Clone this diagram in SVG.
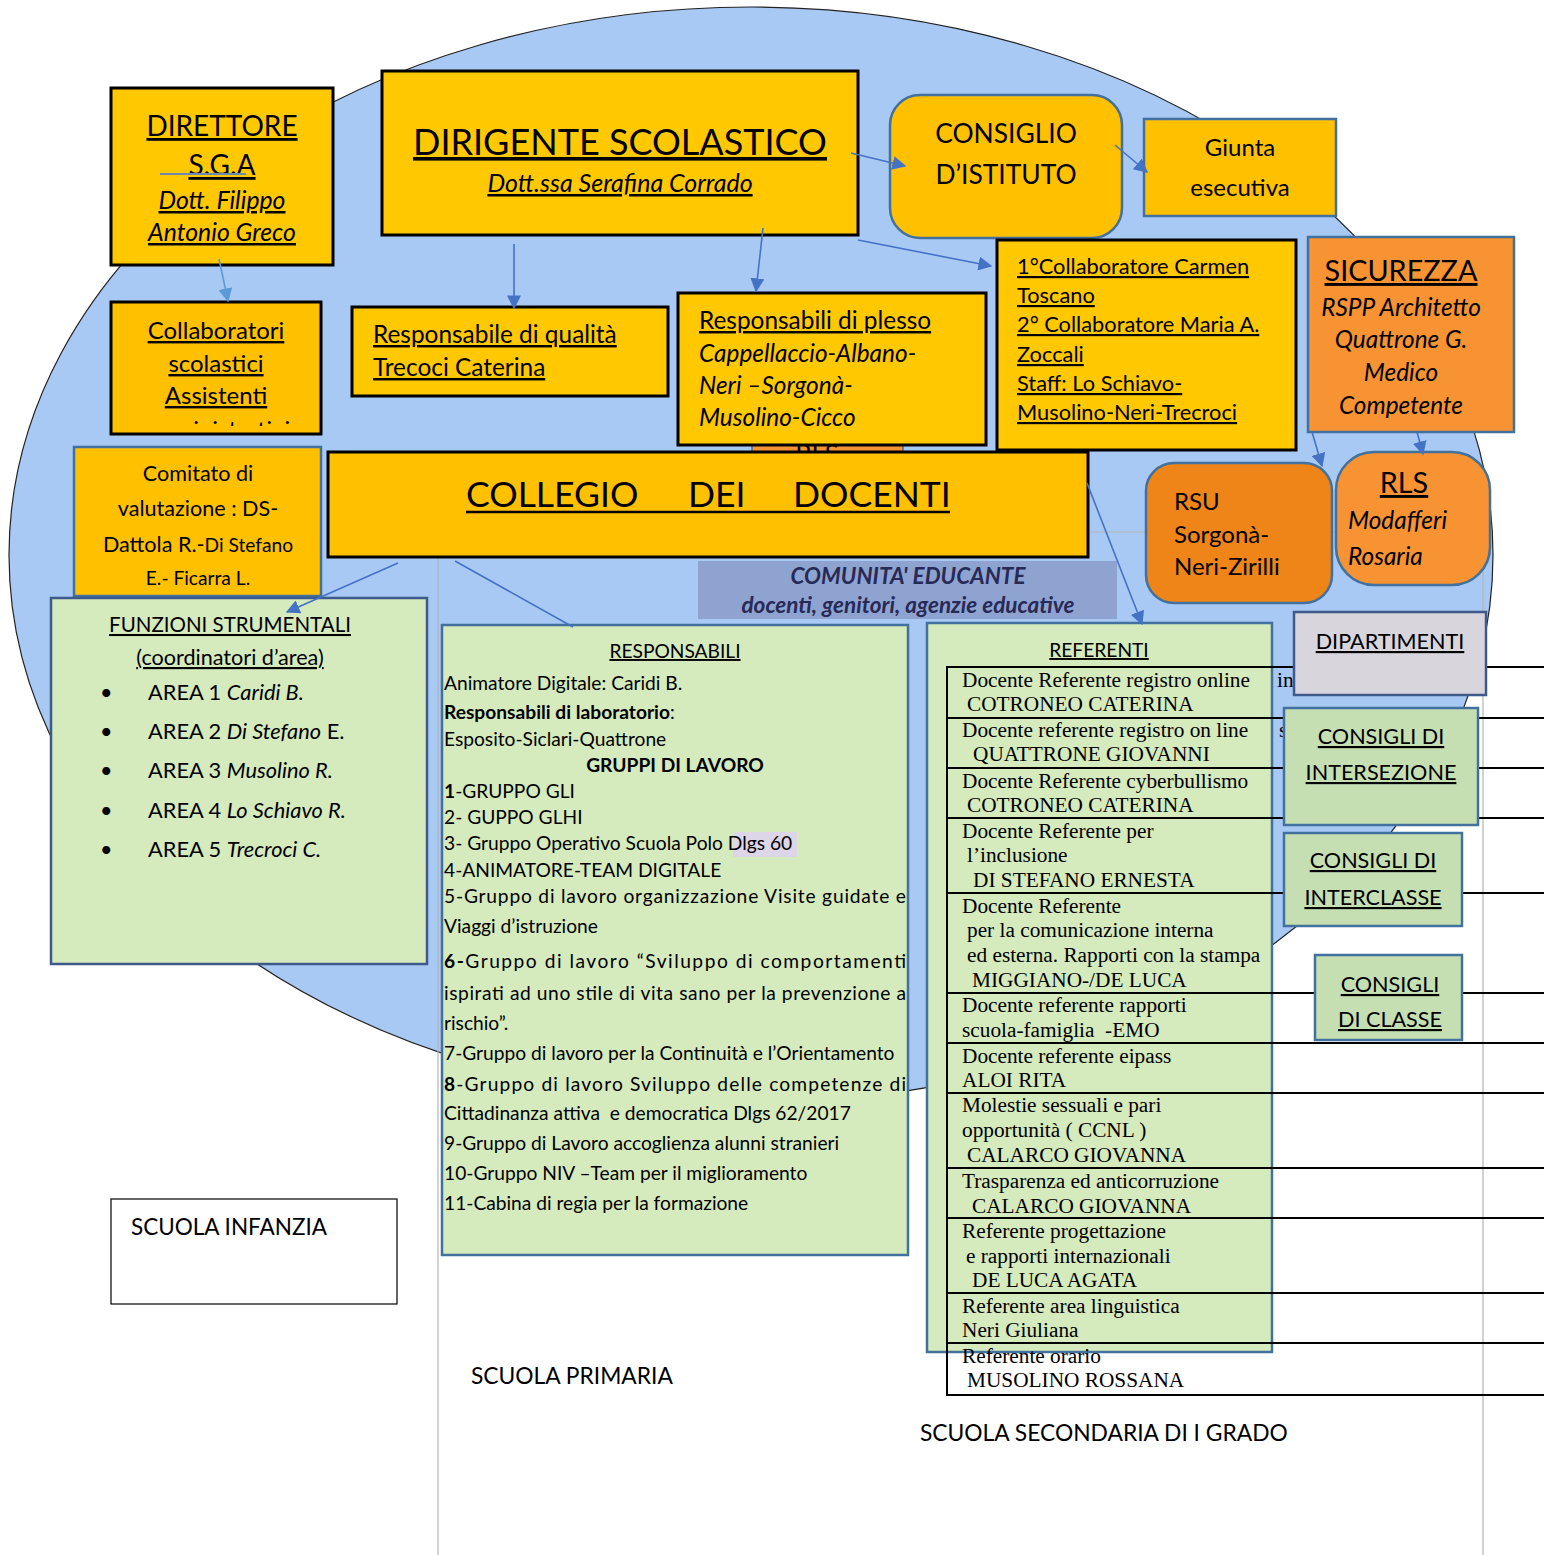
<svg xmlns="http://www.w3.org/2000/svg" width="1544" height="1555" viewBox="0 0 1544 1555">
<defs>
<style>
.cal{font-family:Lato,"Open Sans","Noto Sans",sans-serif;fill:#000}
.tnr{font-family:"Liberation Serif","Times New Roman",serif;font-size:21.3px;fill:#000}
.u{text-decoration:underline}
.i{font-style:italic}
.b{font-weight:bold}
.mid{text-anchor:middle}
.gold{fill:#FFC800;stroke:#000;stroke-width:3}
.gold2{fill:#FFC000;stroke:#000;stroke-width:3}
.goldb{fill:#FFC000;stroke:#41719c;stroke-width:2.5}
.org{fill:#F79332;stroke:#41719c;stroke-width:2.5}
.org2{fill:#EF8418;stroke:#41719c;stroke-width:2.5}
.grn{fill:#D5EABD;stroke:#41719c;stroke-width:2.5}
.grn2{fill:#C5DFB3;stroke:#41719c;stroke-width:2.5}
.conn{stroke:#4472c4;stroke-width:1.6;fill:none}
.row{stroke:#000;stroke-width:2}
.grid{stroke:#b4b4b4;stroke-width:1.2}
</style>
<marker id="ah" viewBox="0 0 10 10" refX="9" refY="5" markerWidth="14" markerHeight="14" markerUnits="userSpaceOnUse" orient="auto"><path d="M0,0 L10,5 L0,10 z" fill="#4472c4"/></marker>
<marker id="ahl" viewBox="0 0 10 10" refX="9" refY="5" markerWidth="14" markerHeight="14" markerUnits="userSpaceOnUse" orient="auto"><path d="M0,0 L10,5 L0,10 z" fill="#5b9bd5"/></marker>
<clipPath id="clipAmm"><rect x="112" y="300" width="208" height="126"/></clipPath>
</defs>
<rect x="0" y="0" width="1544" height="1555" fill="#fff"/>

<g id="background">
<ellipse cx="751" cy="555" rx="742" ry="548" fill="#A9C9F5" stroke="#222" stroke-width="1.2"/>
<line class="grid" x1="438" y1="532" x2="1483" y2="532"/>
<line class="grid" x1="438" y1="532" x2="438" y2="1555"/>
<line class="grid" x1="1483" y1="532" x2="1483" y2="1555"/>
</g>

<g id="dsga">
<rect class="gold" x="111" y="88" width="222" height="177"/>
<text class="cal u mid" x="222" y="136" font-size="28">DIRETTORE</text>
<text class="cal u mid" x="222" y="175" font-size="28">S.G.A</text>
<line x1="160" y1="174" x2="246" y2="174" stroke="#6a8ab5" stroke-width="2"/>
<text class="cal u i mid" x="222" y="209" font-size="24.8">Dott. Filippo</text>
<text class="cal u i mid" x="222" y="241" font-size="24.8">Antonio Greco</text>
</g>

<g id="dirigente">
<rect class="gold" x="382" y="71" width="476" height="164"/>
<text class="cal u mid" x="620" y="155" font-size="36">DIRIGENTE SCOLASTICO</text>
<text class="cal u i mid" x="620" y="192" font-size="25">Dott.ssa Serafina Corrado</text>
</g>

<g id="consiglio-istituto">
<rect class="goldb" x="890" y="95" width="232" height="143" rx="30"/>
<text class="cal mid" x="1006" y="143" font-size="26.4">CONSIGLIO</text>
<text class="cal mid" x="1006" y="184" font-size="26.4">D’ISTITUTO</text>
</g>

<g id="giunta">
<rect class="goldb" x="1144" y="119" width="192" height="97"/>
<text class="cal mid" x="1240" y="156" font-size="24">Giunta</text>
<text class="cal mid" x="1240" y="196" font-size="24">esecutiva</text>
</g>

<g id="collaboratori-ds">
<rect class="gold" x="997" y="240" width="299" height="210"/>
<text class="cal u" x="1017" y="274" font-size="21.8">1°Collaboratore Carmen</text>
<text class="cal u" x="1017" y="303" font-size="21.8">Toscano</text>
<text class="cal u" x="1017" y="332" font-size="21.8">2° Collaboratore Maria A.</text>
<text class="cal u" x="1017" y="362" font-size="21.8">Zoccali</text>
<text class="cal u" x="1017" y="391" font-size="21.8">Staff: Lo Schiavo-</text>
<text class="cal u" x="1017" y="420" font-size="21.8">Musolino-Neri-Trecroci</text>
</g>

<g id="sicurezza">
<rect class="org" x="1308" y="237" width="206" height="195"/>
<text class="cal u mid" x="1401" y="281" font-size="28.8">SICUREZZA</text>
<text class="cal i mid" x="1401" y="316" font-size="24.4">RSPP Architetto</text>
<text class="cal i mid" x="1401" y="348" font-size="24.4">Quattrone G.</text>
<text class="cal i mid" x="1401" y="381" font-size="24.4">Medico</text>
<text class="cal i mid" x="1401" y="414" font-size="24.4">Competente</text>
</g>

<g id="collaboratori-scolastici">
<rect class="gold2" x="111" y="302" width="210" height="132"/>
<text class="cal u mid" x="216" y="339" font-size="24">Collaboratori</text>
<text class="cal u mid" x="216" y="372" font-size="24">scolastici</text>
<text class="cal u mid" x="216" y="404" font-size="24">Assistenti</text>
<text class="cal u mid" x="216" y="438" font-size="24" clip-path="url(#clipAmm)">amministrativi</text>
</g>

<g id="qualita">
<rect class="gold" x="352" y="307" width="316" height="89"/>
<text class="cal u" x="373" y="343" font-size="24.4">Responsabile di qualità</text>
<text class="cal u" x="373" y="376" font-size="24.4">Trecoci Caterina</text>
</g>

<g id="hidden-box">
<rect x="752" y="420" width="151" height="40" fill="#F79332" stroke="#41719c" stroke-width="1.5"/>
<text class="cal mid" x="817" y="464" font-size="26">RLS</text>
</g>

<g id="plesso">
<rect class="gold" x="678" y="293" width="308" height="152"/>
<text class="cal u" x="699" y="329" font-size="24.4">Responsabili di plesso</text>
<text class="cal i" x="699" y="362" font-size="24.4">Cappellaccio-Albano-</text>
<text class="cal i" x="699" y="394" font-size="24.4">Neri –Sorgonà-</text>
<text class="cal i" x="699" y="426" font-size="24.4">Musolino-Cicco</text>
</g>

<g id="collegio">
<rect class="gold2" x="328" y="452" width="760" height="105"/>
<text class="cal" y="507" font-size="35.5"><tspan x="466">COLLEGIO</tspan><tspan x="688">DEI</tspan><tspan x="793">DOCENTI</tspan></text>
<line x1="466" y1="512" x2="950" y2="512" stroke="#000" stroke-width="2.5"/>
</g>

<g id="comitato">
<rect class="goldb" x="74" y="447" width="247" height="149"/>
<text class="cal mid" x="198" y="481" font-size="21.6">Comitato di</text>
<text class="cal mid" x="198" y="516" font-size="21.6">valutazione : DS-</text>
<text class="cal mid" x="198" y="552" font-size="21.6">Dattola R.-<tspan font-size="19.2">Di Stefano</tspan></text>
<text class="cal mid" x="198" y="585" font-size="19.2">E.- Ficarra L.</text>
</g>

<g id="rsu">
<rect class="org2" x="1146" y="463" width="186" height="140" rx="28"/>
<text class="cal" x="1174" y="510" font-size="24">RSU</text>
<text class="cal" x="1174" y="543" font-size="24">Sorgonà-</text>
<text class="cal" x="1174" y="575" font-size="24">Neri-Zirilli</text>
</g>

<g id="rls">
<rect class="org" x="1336" y="452" width="154" height="133" rx="38"/>
<text class="cal u mid" x="1404" y="493" font-size="28.8">RLS</text>
<text class="cal i" x="1348" y="529" font-size="24.4">Modafferi</text>
<text class="cal i" x="1348" y="565" font-size="24.4">Rosaria</text>
</g>

<g id="comunita">
<rect x="698" y="561" width="419" height="58" fill="#8FA3D1"/>
<text class="cal b i mid" x="908" y="584" font-size="22.5" style="fill:#272a56">COMUNITA' EDUCANTE</text>
<text class="cal b i mid" x="908" y="613" font-size="22.5" style="fill:#272a56">docenti, genitori, agenzie educative</text>
</g>

<g id="funzioni">
<rect class="grn" x="51" y="598" width="376" height="366" style="stroke:#3d5a8a"/>
<text class="cal u mid" x="230" y="632" font-size="20.5">FUNZIONI STRUMENTALI</text>
<text class="cal u mid" x="230" y="665" font-size="21.6">(coordinatori d’area)</text>
<g font-size="21.6">
<text class="cal" x="100" y="700">•</text>
<text class="cal" x="100" y="739">•</text>
<text class="cal" x="100" y="778">•</text>
<text class="cal" x="100" y="818">•</text>
<text class="cal" x="100" y="857">•</text>
<text class="cal" x="148" y="700" font-size="21.8">AREA 1  <tspan class="i">Caridi B.</tspan></text>
<text class="cal" x="148" y="739" font-size="21.8">AREA 2 <tspan class="i">Di Stefano</tspan> E.</text>
<text class="cal" x="148" y="778" font-size="21.8">AREA 3 <tspan class="i">Musolino R.</tspan></text>
<text class="cal" x="148" y="818" font-size="21.8">AREA 4 <tspan class="i">Lo Schiavo R.</tspan></text>
<text class="cal" x="148" y="857" font-size="21.8">AREA 5 <tspan class="i">Trecroci C.</tspan></text>
</g>
</g>

<g id="responsabili">
<rect class="grn" x="442" y="625" width="466" height="630"/>
<rect x="733" y="832" width="64" height="25" fill="#DCD6E8"/>
<g font-size="19.2">
<text class="cal u mid" x="675" y="658">RESPONSABILI</text>
<text class="cal" x="444" y="690">Animatore Digitale: Caridi B.</text>
<text class="cal" x="444" y="719"><tspan class="b">Responsabili di laboratorio</tspan>:</text>
<text class="cal" x="444" y="746">Esposito-Siclari-Quattrone</text>
<text class="cal b mid" x="675" y="772">GRUPPI DI LAVORO</text>
<text class="cal" x="444" y="798"><tspan class="b">1</tspan>-GRUPPO GLI</text>
<text class="cal" x="444" y="824">2- GUPPO GLHI</text>
<text class="cal" x="444" y="850">3- Gruppo Operativo Scuola Polo Dlgs 60</text>
<text class="cal" x="444" y="877">4-ANIMATORE-TEAM DIGITALE</text>
<text class="cal" x="444" y="903" textLength="462" lengthAdjust="spacing">5-Gruppo di lavoro organizzazione Visite guidate e</text>
<text class="cal" x="444" y="933">Viaggi d’istruzione</text>
<text class="cal" x="444" y="968" textLength="462" lengthAdjust="spacing"><tspan class="b">6-</tspan>Gruppo di lavoro “Sviluppo di comportamenti</text>
<text class="cal" x="444" y="1000" textLength="462" lengthAdjust="spacing">ispirati ad uno stile di vita sano per la prevenzione a</text>
<text class="cal" x="444" y="1030">rischio”.</text>
<text class="cal" x="444" y="1060">7-Gruppo di lavoro per la Continuità e l’Orientamento</text>
<text class="cal" x="444" y="1091" textLength="462" lengthAdjust="spacing"><tspan class="b">8</tspan>-Gruppo di lavoro Sviluppo delle competenze di</text>
<text class="cal" x="444" y="1120" xml:space="preserve">Cittadinanza attiva  e democratica Dlgs 62/2017</text>
<text class="cal" x="444" y="1150">9-Gruppo di Lavoro accoglienza alunni stranieri</text>
<text class="cal" x="444" y="1180">10-Gruppo NIV –Team per il miglioramento</text>
<text class="cal" x="444" y="1210">11-Cabina di regia per la formazione</text>
</g>
</g>

<g id="referenti">
<rect class="grn" x="927" y="623" width="345" height="729"/>
<text class="cal u mid" x="1099" y="657" font-size="19.2">REFERENTI</text>
<g id="referenti-table">
<line class="row" x1="947" y1="667" x2="947" y2="1395"/>
<line class="row" x1="946" y1="667" x2="1544" y2="667"/>
<line class="row" x1="946" y1="718" x2="1544" y2="718"/>
<line class="row" x1="946" y1="768" x2="1544" y2="768"/>
<line class="row" x1="946" y1="818" x2="1544" y2="818"/>
<line class="row" x1="946" y1="893" x2="1544" y2="893"/>
<line class="row" x1="946" y1="993" x2="1544" y2="993"/>
<line class="row" x1="946" y1="1043" x2="1544" y2="1043"/>
<line class="row" x1="946" y1="1093" x2="1544" y2="1093"/>
<line class="row" x1="946" y1="1168" x2="1544" y2="1168"/>
<line class="row" x1="946" y1="1218" x2="1544" y2="1218"/>
<line class="row" x1="946" y1="1293" x2="1544" y2="1293"/>
<line class="row" x1="946" y1="1343" x2="1544" y2="1343"/>
<line class="row" x1="946" y1="1395" x2="1544" y2="1395"/>
<text class="tnr" x="962" y="687">Docente Referente registro online</text>
<text class="tnr" x="967" y="711">COTRONEO CATERINA</text>
<text class="tnr" x="1277" y="687">in</text>
<text class="tnr" x="962" y="737">Docente referente registro on line</text>
<text class="tnr" x="1279" y="737">s</text>
<text class="tnr" x="973" y="761">QUATTRONE GIOVANNI</text>
<text class="tnr" x="962" y="788">Docente Referente cyberbullismo</text>
<text class="tnr" x="967" y="812">COTRONEO CATERINA</text>
<text class="tnr" x="962" y="838">Docente Referente per</text>
<text class="tnr" x="967" y="862">l’inclusione</text>
<text class="tnr" x="973" y="887">DI STEFANO ERNESTA</text>
<text class="tnr" x="962" y="913">Docente Referente</text>
<text class="tnr" x="967" y="937">per la comunicazione interna</text>
<text class="tnr" x="967" y="962">ed esterna. Rapporti con la stampa</text>
<text class="tnr" x="972" y="987">MIGGIANO-/DE LUCA</text>
<text class="tnr" x="962" y="1012">Docente referente rapporti</text>
<text class="tnr" x="962" y="1037" xml:space="preserve">scuola-famiglia  -EMO</text>
<text class="tnr" x="962" y="1063">Docente referente eipass</text>
<text class="tnr" x="962" y="1087">ALOI RITA</text>
<text class="tnr" x="962" y="1112">Molestie sessuali e pari</text>
<text class="tnr" x="962" y="1137">opportunità ( CCNL )</text>
<text class="tnr" x="967" y="1162">CALARCO GIOVANNA</text>
<text class="tnr" x="962" y="1188">Trasparenza ed anticorruzione</text>
<text class="tnr" x="972" y="1213">CALARCO GIOVANNA</text>
<text class="tnr" x="962" y="1238">Referente progettazione</text>
<text class="tnr" x="966" y="1263">e rapporti internazionali</text>
<text class="tnr" x="972" y="1287">DE LUCA AGATA</text>
<text class="tnr" x="962" y="1313">Referente area linguistica</text>
<text class="tnr" x="962" y="1337">Neri Giuliana</text>
<text class="tnr" x="962" y="1363">Referente orario</text>
<text class="tnr" x="967" y="1387">MUSOLINO ROSSANA</text>
</g>
</g>

<g id="dipartimenti">
<rect x="1294" y="612" width="192" height="83" fill="#D9D5DD" stroke="#3d5a8a" stroke-width="2.5"/>
<text class="cal u mid" x="1390" y="649" font-size="21.6">DIPARTIMENTI</text>
</g>

<g id="consigli-intersezione">
<rect class="grn2" x="1284" y="708" width="194" height="117"/>
<text class="cal u mid" x="1381" y="744" font-size="21.6">CONSIGLI DI</text>
<text class="cal u mid" x="1381" y="780" font-size="21.6">INTERSEZIONE</text>
</g>

<g id="consigli-interclasse">
<rect class="grn2" x="1284" y="833" width="178" height="93"/>
<text class="cal u mid" x="1373" y="868" font-size="21.6">CONSIGLI DI</text>
<text class="cal u mid" x="1373" y="905" font-size="21.6">INTERCLASSE</text>
</g>

<g id="consigli-classe">
<rect class="grn2" x="1315" y="955" width="147" height="85"/>
<text class="cal u mid" x="1390" y="992" font-size="21.6">CONSIGLI</text>
<text class="cal u mid" x="1390" y="1027" font-size="21.6">DI CLASSE</text>
</g>

<g id="scuola-infanzia">
<rect x="111" y="1199" width="286" height="105" fill="#fff" stroke="#000" stroke-width="1.2"/>
<text class="cal" x="131" y="1235" font-size="22.5">SCUOLA INFANZIA</text>
</g>
<g id="scuola-primaria">
<text class="cal" x="471" y="1384" font-size="22.8">SCUOLA PRIMARIA</text>
</g>
<g id="scuola-secondaria">
<text class="cal" x="920" y="1441" font-size="22.8">SCUOLA SECONDARIA DI I GRADO</text>
</g>

<g id="connectors">
<line class="conn" x1="219" y1="259" x2="228" y2="301" style="stroke:#5b9bd5" marker-end="url(#ahl)"/>
<line class="conn" x1="851" y1="153" x2="905" y2="166" marker-end="url(#ah)"/>
<line class="conn" x1="1115" y1="145" x2="1147" y2="172" marker-end="url(#ah)"/>
<line class="conn" x1="514" y1="244" x2="514" y2="308" marker-end="url(#ah)"/>
<line class="conn" x1="763" y1="228" x2="756" y2="291" marker-end="url(#ah)"/>
<line class="conn" x1="858" y1="240" x2="991" y2="266" marker-end="url(#ah)"/>
<line class="conn" x1="1312" y1="432" x2="1322" y2="466" marker-end="url(#ah)"/>
<line class="conn" x1="1417" y1="432" x2="1423" y2="454" marker-end="url(#ah)"/>
<line class="conn" x1="398" y1="563" x2="287" y2="612" marker-end="url(#ah)"/>
<line class="conn" x1="455" y1="561" x2="573" y2="627"/>
<line class="conn" x1="1087" y1="483" x2="1142" y2="624" marker-end="url(#ah)"/>
</g>
</svg>
